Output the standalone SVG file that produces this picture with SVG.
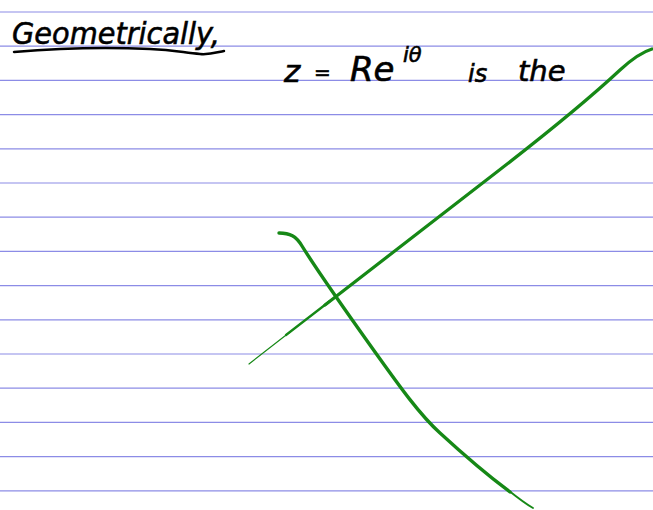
<svg xmlns="http://www.w3.org/2000/svg" width="653" height="510" viewBox="0 0 653 510">
<style>
.rule{stroke:#8c8ce6;stroke-width:1.2}
.ink{font-family:"DejaVu Sans",sans-serif;font-style:italic;fill:#000;stroke:#000;stroke-width:0.6}
.g{fill:none;stroke:#168816;stroke-linecap:round;stroke-linejoin:round}
</style>
<rect width="653" height="510" fill="#fff"/>
<g id="rules">
<line class="rule" x1="0" y1="12" x2="653" y2="12"/>
<line class="rule" x1="0" y1="46.2" x2="653" y2="46.2"/>
<line class="rule" x1="0" y1="80.4" x2="653" y2="80.4"/>
<line class="rule" x1="0" y1="114.6" x2="653" y2="114.6"/>
<line class="rule" x1="0" y1="148.8" x2="653" y2="148.8"/>
<line class="rule" x1="0" y1="183" x2="653" y2="183"/>
<line class="rule" x1="0" y1="217.2" x2="653" y2="217.2"/>
<line class="rule" x1="0" y1="251.4" x2="653" y2="251.4"/>
<line class="rule" x1="0" y1="285.6" x2="653" y2="285.6"/>
<line class="rule" x1="0" y1="319.8" x2="653" y2="319.8"/>
<line class="rule" x1="0" y1="354" x2="653" y2="354"/>
<line class="rule" x1="0" y1="388.2" x2="653" y2="388.2"/>
<line class="rule" x1="0" y1="422.4" x2="653" y2="422.4"/>
<line class="rule" x1="0" y1="456.6" x2="653" y2="456.6"/>
<line class="rule" x1="0" y1="490.8" x2="653" y2="490.8"/>
</g>
<g id="heading">
<text class="ink" x="12" y="44" font-size="31" textLength="208" lengthAdjust="spacingAndGlyphs">Geometrically,</text>
<path d="M14 52 C60 48 110 47 150 49 C175 50 185 53 200 54 C210 55 218 52 224 51" fill="none" stroke="#000" stroke-width="2.5" stroke-linecap="round"/>
</g>
<g id="formula">
<text class="ink" x="284" y="82" font-size="31">z</text>
<text class="ink" x="314" y="79" font-size="20">=</text>
<text class="ink" x="350" y="81" font-size="34">Re</text>
<text class="ink" x="403" y="62" font-size="21">iθ</text>
<text class="ink" x="468" y="82" font-size="24">is</text>
<text class="ink" x="518" y="81" font-size="29">the</text>
</g>
<g id="curves">
<path class="g" d="M249 364 L290 332" stroke-width="1.2" stroke="#4e964e"/>
<path class="g" d="M286 335 L330 301" stroke-width="2.3"/>
<path class="g" d="M325 305 L480 185 C540 139 590 98 620 70 C632 59 642 52 652 49" stroke-width="3.2"/>
<path class="g" d="M279 233 C290 233 296 236 302 246 C320 275 345 310 375 352 C400 387 420 415 440 433 C465 456 490 477 510 492" stroke-width="3.4"/>
<path class="g" d="M508 490 C518 498 526 504 533 508" stroke-width="1.8"/>
</g>
</svg>
